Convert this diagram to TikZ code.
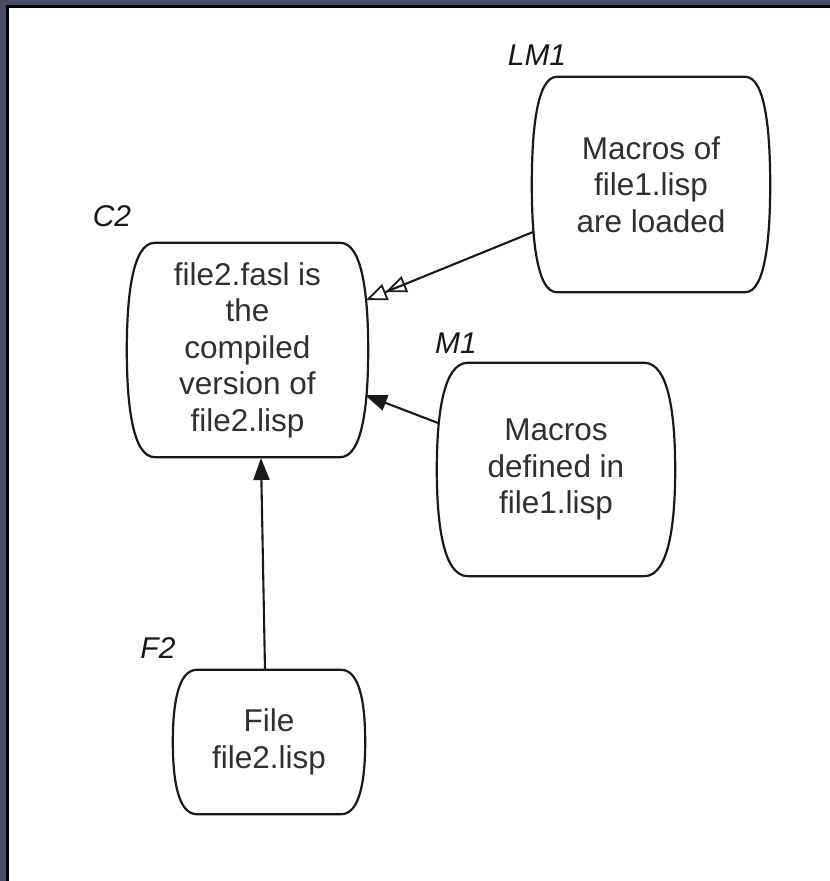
\documentclass[tikz,border=0pt]{standalone}
\usepackage{fontspec}
\setmainfont{Liberation Sans}
\usetikzlibrary{arrows.meta,calc}
\definecolor{framebg}{RGB}{72,77,95}
\definecolor{ink}{RGB}{25,25,25}
\tikzset{
  boxtext/.style={inner sep=0pt, align=center, font=\fontsize{31.5}{36.5}\selectfont, text=ink!90},
  tag/.style={inner sep=0pt, font=\fontsize{30}{36}\selectfont\itshape, text=ink},
  shp/.style={draw=ink, line width=2.2pt},
  link/.style={draw=ink, line width=2.1pt},
  solidhead/.style={-{Triangle[length=22pt,width=16pt]}},
  openhead/.style={-{Triangle[open,length=21pt,width=17pt,line width=1.8pt] Triangle[open,length=21pt,width=17pt,line width=1.8pt]}}
}
\newcommand\barrelshape[2]{%
  \draw[shp] ([xshift=#2pt]#1.north west) -- ([xshift=-#2pt]#1.north east)
    .. controls ([xshift=-0.2*#2pt]#1.north east) and ($(#1.east)!0.5!(#1.north east)$) .. (#1.east)
    .. controls ($(#1.east)!0.5!(#1.south east)$) and ([xshift=-0.2*#2pt]#1.south east) .. ([xshift=-#2pt]#1.south east)
    -- ([xshift=#2pt]#1.south west)
    .. controls ([xshift=0.2*#2pt]#1.south west) and ($(#1.west)!0.5!(#1.south west)$) .. (#1.west)
    .. controls ($(#1.west)!0.5!(#1.north west)$) and ([xshift=0.2*#2pt]#1.north west) .. cycle;}
\begin{document}
\begin{tikzpicture}[x=1pt,y=-1pt]
\useasboundingbox (0,0) rectangle (830,881);
\fill[framebg] (0,0) rectangle (830,881);
\fill[black] (6,5) rectangle (830,881);
\fill[white] (9,8) rectangle (830,881);

\node[boxtext, minimum width=241pt, minimum height=214pt] (c2) at (247.5,350)
  {file2.fasl is\\the\\compiled\\version of\\file2.lisp};
\node[boxtext, minimum width=238pt, minimum height=215pt] (lm1) at (651,184.5)
  {Macros of\\file1.lisp\\are loaded};
\node[boxtext, minimum width=238pt, minimum height=213pt] (m1) at (556,469.5)
  {Macros\\defined in\\file1.lisp};
\node[boxtext, minimum width=192pt, minimum height=144pt] (f2) at (269,742)
  {File\\file2.lisp};

\barrelshape{c2}{28}
\barrelshape{lm1}{25}
\barrelshape{m1}{31}
\barrelshape{f2}{24}

\node[tag] (c2tag) at (112,216) {C2};
\node[tag] (lm1tag) at (537,55) {LM1};
\node[tag] (m1tag) at (456,343) {M1};
\node[tag] (f2tag) at (158,648) {F2};

\draw[link, openhead] ($(lm1.center)+(-118,47.5)$) -- ($(c2.center)+(118.5,-50)$);
\draw[link, solidhead] ($(m1.center)+(-118,-46.5)$) -- ($(c2.center)+(117.5,45)$);
\draw[link, solidhead] ($(f2.center)+(-4,-72)$) -- ($(c2.center)+(13.5,108)$);
\end{tikzpicture}
\end{document}
